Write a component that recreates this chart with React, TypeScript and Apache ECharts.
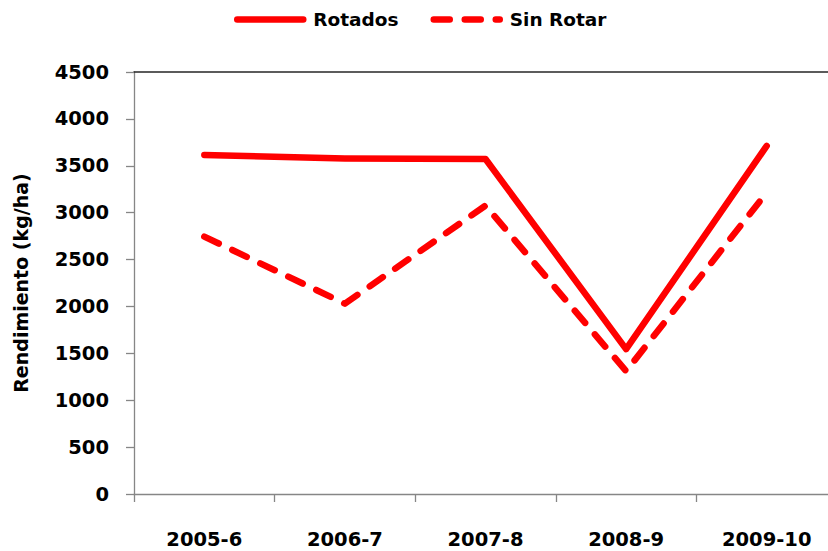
import React, { useEffect, useRef } from "react";
import * as echarts from "echarts";

const categories = ["2005-6", "2006-7", "2007-8", "2008-9", "2009-10"];
const rotados = [3615, 3578, 3572, 1545, 3712];
const sinRotar = [2744, 2030, 3075, 1310, 3215];
const yTicks = { min: 0, max: 4500, interval: 500 };
const seriesNames = ["Rotados", "Sin Rotar"];
const yTitle = "Rendimiento (kg/ha)";

const FONT = "DejaVu Sans";

export default function App() {
  const ref = useRef<HTMLDivElement>(null);
  useEffect(() => {
    if (!ref.current) return;
    const chart = echarts.init(ref.current, null, { renderer: "svg" });
    chart.setOption({
      animation: false,
      backgroundColor: "#ffffff",
      legend: {
        data: seriesNames,
        left: 234,
        top: 10,
        padding: 0,
        itemWidth: 66,
        itemHeight: 14,
        itemGap: 32,
        itemStyle: { opacity: 0, borderWidth: 0 },
        lineStyle: { width: 6.5, cap: "round" },
        textStyle: {
          fontFamily: FONT,
          fontWeight: "bold",
          fontSize: 18.5,
          color: "#000",
          padding: [0, 0, 0, 5],
        },
      },
      grid: {
        left: 134,
        top: 72,
        height: 422,
        width: 703,
        containLabel: false,
        outerBoundsMode: "none",
      },
      xAxis: [
        {
          type: "category",
          data: categories,
          boundaryGap: true,
          axisLine: { show: true, lineStyle: { color: "#868686", width: 1.3 } },
          axisTick: { show: true, length: 8, interval: 0, lineStyle: { color: "#868686", width: 1.3 } },
          axisLabel: {
            interval: 0,
            margin: 35,
            fontFamily: FONT,
            fontWeight: "bold",
            fontSize: 19.5,
            color: "#000",
          },
          splitLine: { show: false },
        },
        {
          type: "category",
          data: categories,
          position: "top",
          boundaryGap: true,
          axisLine: { show: true, lineStyle: { color: "#262626", width: 1.5 } },
          axisTick: { show: false },
          axisLabel: { show: false },
          splitLine: { show: false },
        },
      ],
      yAxis: {
        type: "value",
        min: yTicks.min,
        max: yTicks.max,
        interval: yTicks.interval,
        name: yTitle,
        nameLocation: "middle",
        nameGap: 104,
        nameRotate: 90,
        nameTextStyle: {
          fontFamily: FONT,
          fontWeight: "bold",
          fontSize: 19,
          color: "#000",
        },
        axisLine: { show: true, lineStyle: { color: "#868686", width: 1.3 } },
        axisTick: { show: true, length: 8, lineStyle: { color: "#868686", width: 1.3 } },
        axisLabel: {
          margin: 25,
          formatter: (v: number) => String(v),
          fontFamily: FONT,
          fontWeight: "bold",
          fontSize: 19.5,
          color: "#000",
        },
        splitLine: { show: false },
      },
      series: [
        {
          name: seriesNames[0],
          type: "line",
          data: rotados,
          xAxisIndex: 0,
          symbol: "none",
          lineStyle: { color: "#ff0000", width: 6.5, cap: "round", join: "round" },
          itemStyle: { color: "#ff0000" },
        },
        {
          name: seriesNames[1],
          type: "line",
          data: sinRotar,
          xAxisIndex: 0,
          symbol: "none",
          lineStyle: { color: "#ff0000", width: 6.5, type: [16, 15], cap: "round", join: "round" },
          itemStyle: { color: "#ff0000" },
        },
      ],
    });
    return () => chart.dispose();
  }, []);
  return (
    <div
      ref={ref}
      style={{ position: "fixed", left: 0, top: 0, width: 850, height: 551, background: "#fff" }}
    />
  );
}
